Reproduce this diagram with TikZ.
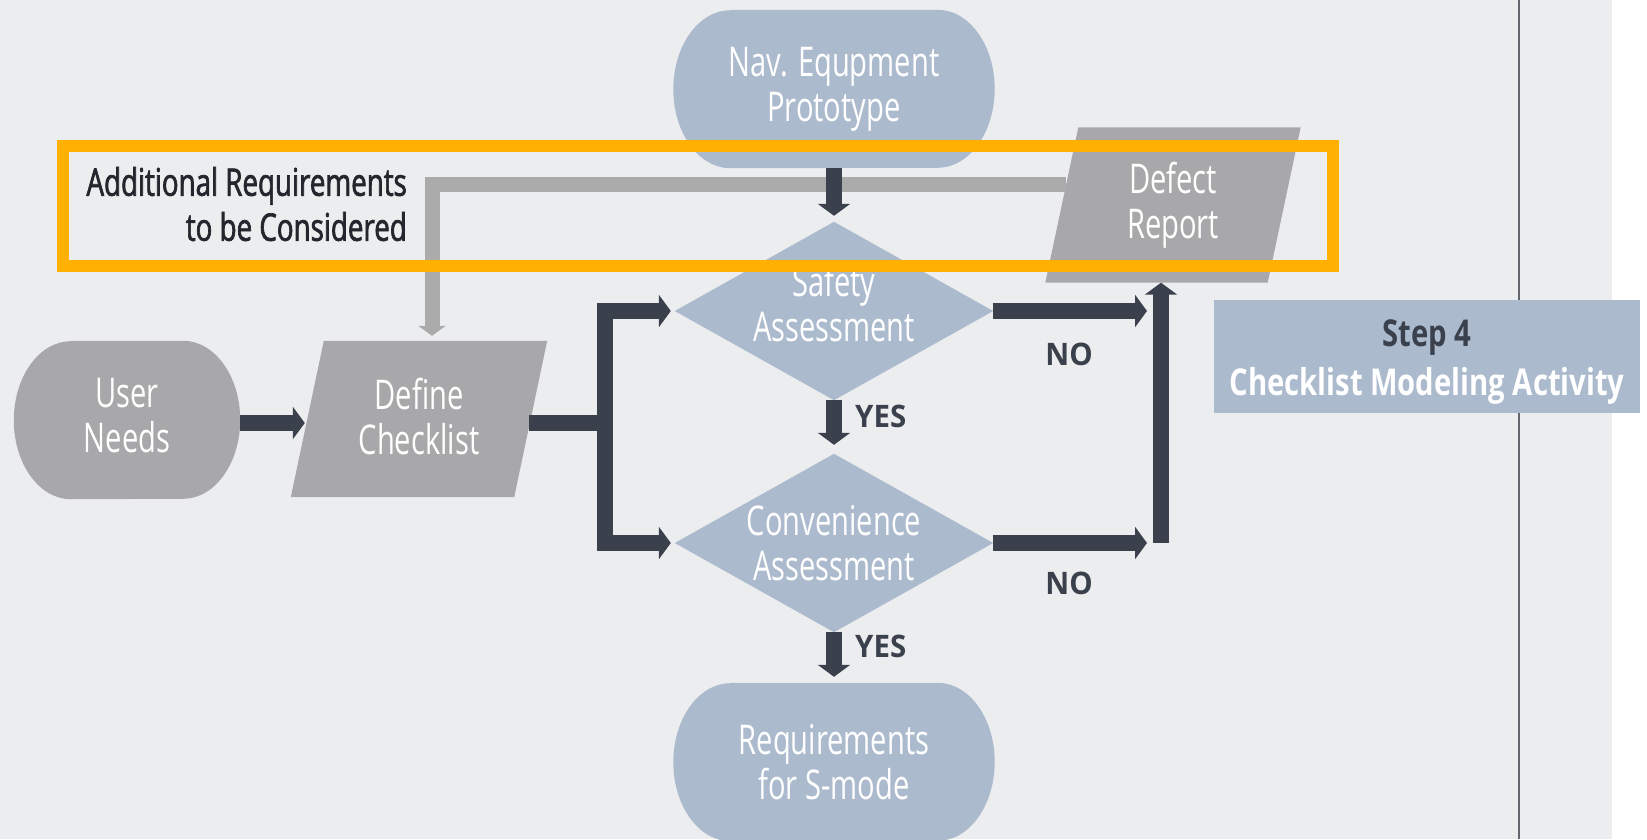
\documentclass[tikz,border=0pt]{standalone}
\usepackage{fontspec}
\usetikzlibrary{arrows.meta,calc}
\setmainfont{Open Sans}
\newfontfamily\flowfont{Open Sans}[FakeStretch=0.71]
\newfontfamily\notefont{Open Sans}[FakeStretch=0.73,FakeBold=1.8]
\newfontfamily\tagfont{Open Sans}[FakeStretch=0.95]
\newfontfamily\stepfont{Open Sans}[FakeStretch=0.79]

\definecolor{canvas}{HTML}{ECEDEF}
\definecolor{slate}{HTML}{ACBACE}
\definecolor{stone}{HTML}{A8A8AA}
\definecolor{ink}{HTML}{3B414C}
\definecolor{notetext}{HTML}{23262C}
\definecolor{amber}{HTML}{FFB000}
\definecolor{wire}{HTML}{ABABAB}
\definecolor{rulegrey}{HTML}{62676F}

\pgfdeclarelayer{back}
\pgfdeclarelayer{front}
\pgfsetlayers{back,main,front}

% stadium with half-elliptic ends, filled behind the node #1
\newcommand\stadiumfill[2]{%
  \fill[#2] ([xshift=57pt]#1.north west) -- ([xshift=-57pt]#1.north east)
    arc[start angle=90,end angle=-90,x radius=57pt,y radius=79pt]
    -- ([xshift=57pt]#1.south west)
    arc[start angle=270,end angle=90,x radius=57pt,y radius=79pt] -- cycle;}
% parallelogram leaning right
\newcommand\slantfill[2]{%
  \fill[#2] ([xshift=33pt]#1.north west) -- (#1.north east)
    -- ([xshift=-33pt]#1.south east) -- (#1.south west) -- cycle;}
% decision diamond
\newcommand\diamondfill[2]{%
  \fill[#2] (#1.west) -- (#1.north) -- (#1.east) -- (#1.south) -- cycle;}

\tikzset{
  flowtext/.style={text=white,align=center,inner sep=0pt,
    font=\flowfont\fontsize{41}{45}\selectfont},
  tagtext/.style={text=ink,inner sep=0pt,
    font=\tagfont\bfseries\fontsize{31}{36}\selectfont},
  inkline/.style={draw=ink,line width=16pt},
  inkarrow/.style={inkline,-{Triangle[length=12pt,width=32pt]}},
  wirearrow/.style={draw=wire,line width=15pt,-{Triangle[length=10pt,width=27pt]}},
}

\begin{document}
\begin{tikzpicture}[x=1pt,y=-1pt]
\useasboundingbox (0,0) rectangle (1647,839);

% flow elements
\node[flowtext,minimum width=321pt,minimum height=158pt] (nav) at (834,89) {Nav. Equpment\\Prototype};
\node[flowtext,minimum width=318pt,minimum height=178pt,text depth=15pt] (safety) at (834,311) {Safety\\Assessment};
\node[flowtext,minimum width=318pt,minimum height=178pt] (conv) at (834,543) {Convenience\\Assessment};
\node[flowtext,minimum width=321pt,minimum height=158pt] (req) at (834,762) {Requirements\\for S-mode};
\node[flowtext,minimum width=226pt,minimum height=158pt,text depth=9pt] (user) at (127,420) {User\\Needs};
\node[flowtext,minimum width=256pt,minimum height=156pt,text depth=5pt] (define) at (419,419) {Define\\Checklist};
\node[flowtext,minimum width=255pt,minimum height=155pt] (defect) at (1173,205) {Defect\\Report};

\begin{pgfonlayer}{back}
  \fill[canvas] (0,0) rectangle (1612,839);
  \draw[rulegrey,line width=2pt] (1519,0) -- (1519,839);
  \stadiumfill{nav}{slate}
  \stadiumfill{req}{slate}
  \stadiumfill{user}{stone}
  \diamondfill{safety}{slate}
  \diamondfill{conv}{slate}
  \slantfill{define}{stone}
  \slantfill{defect}{stone}
\end{pgfonlayer}

% step caption
\node[fill=slate,minimum width=426pt,minimum height=113pt,inner sep=0pt,
  text=white,font=\stepfont\bfseries\fontsize{37}{49}\selectfont]
  (step) at (1427,356)
  {\raisebox{-5pt}[\height][\depth]{\begin{tabular}{@{}c@{}}\textcolor{ink}{Step 4}\\Checklist Modeling Activity\end{tabular}}};

% feedback of additional requirements
\coordinate (fb) at ($(defect.north west)+(21,57)$);
\draw[wirearrow,shorten >=5pt] (fb) -| ($(define.north)+(13,0)$);

% main flow
\coordinate (split) at (605,423);
\coordinate (merge) at (1161,543);
\draw[inkarrow,shorten >=2pt] ([yshift=-3pt]user.east) -- ($(define.west)+(16,4)$);
\draw[inkline] ($(define.east)+(-18,4)$) -- (split);
\draw[inkarrow,shorten >=4pt] (split) |- (safety.west);
\draw[inkarrow,shorten >=4pt] (split) |- (conv.west);
\draw[inkarrow,shorten >=6pt] (nav.south) -- (safety.north);
\draw[inkarrow,shorten >=9pt] (safety.south) -- (conv.north);
\draw[inkarrow,shorten >=6pt] (conv.south) -- (req.north);
\draw[inkarrow,shorten >=14pt] (safety.east) -- (safety.east -| merge);
\draw[inkarrow,shorten >=14pt] (conv.east) -- (merge);
\draw[inkarrow] (merge) -- (merge |- defect.south);

% branch labels
\node[tagtext,anchor=west] (yes1) at (855,416) {YES};
\node[tagtext,anchor=west] (yes2) at (855,646) {YES};
\node[tagtext] (no1) at (1069,354) {NO};
\node[tagtext] (no2) at (1069,583) {NO};

% highlighted note
\node[text=notetext,align=right,inner sep=0pt,anchor=east,
  font=\notefont\fontsize{38}{45}\selectfont] (note) at (407,204)
  {Additional Requirements\\to be Considered};
\begin{pgfonlayer}{front}
  \node[draw=amber,line width=12pt,minimum width=1270pt,minimum height=120pt,inner sep=0pt]
    (focus) at (698,206) {};
\end{pgfonlayer}
\end{tikzpicture}
\end{document}
